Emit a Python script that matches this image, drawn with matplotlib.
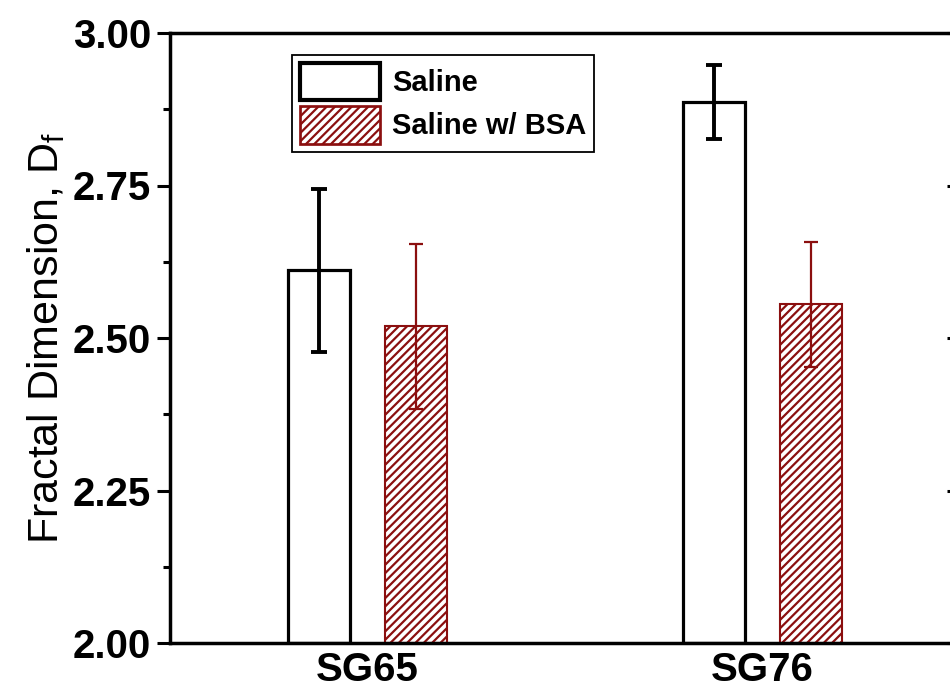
import numpy as np
import matplotlib.pyplot as plt
from matplotlib.ticker import MultipleLocator

plt.rcParams['font.family'] = ['Liberation Sans', 'DejaVu Sans']
plt.rcParams['hatch.linewidth'] = 1.6

# data
groups = ["SG65", "SG76"]
saline = [2.611, 2.887]
saline_err = [0.134, 0.061]
bsa = [2.519, 2.555]
bsa_err = [0.135, 0.102]

red = "#8b0f0f"

fig = plt.figure(figsize=(9.5, 6.92), dpi=100)
ax = fig.add_axes([170 / 950, 1 - 643 / 692, (960 - 170) / 950, (643 - 33) / 692])

x = np.arange(1, len(groups) + 1)
w = 0.155
off = 0.123

ax.bar(x - off, np.array(saline) - 2, w, bottom=2, facecolor="white",
       edgecolor="black", linewidth=2.3, label="Saline", zorder=2)
ax.errorbar(x - off, saline, yerr=saline_err, fmt="none", ecolor="black",
            elinewidth=2.8, capsize=5.5, capthick=2.8, zorder=3)

ax.bar(x + off, np.array(bsa) - 2, w, bottom=2, facecolor="white",
       edgecolor=red, linewidth=1.5, hatch="////", label="Saline w/ BSA", zorder=2)
ax.errorbar(x + off, bsa, yerr=bsa_err, fmt="none", ecolor=red,
            elinewidth=1.6, capsize=5, capthick=1.6, zorder=3)

ax.set_xlim(0.5, 2.5)
ax.set_ylim(2.0, 3.0)
ax.set_xticks(x)
ax.set_xticklabels(groups, fontsize=29, fontweight="bold")
ax.yaxis.set_major_locator(MultipleLocator(0.25))
ax.yaxis.set_minor_locator(MultipleLocator(0.125))
ax.set_yticklabels([f"{v:.2f}" for v in ax.get_yticks()], fontsize=29,
                   fontweight="bold")

ax.tick_params(axis="x", length=0, pad=6)
ax.tick_params(axis="y", which="major", direction="out", length=9.5, width=2.2, pad=4)
ax.tick_params(axis="y", which="minor", direction="out", length=5, width=2.2)
ax.tick_params(axis="y", which="both", right=True)
for t in ax.yaxis.get_major_ticks() + ax.yaxis.get_minor_ticks():
    t.tick2line.set_marker(0)  # right side ticks point inward
for sp in ax.spines.values():
    sp.set_linewidth(2.5)

ax.set_ylabel(r"Fractal Dimension, D$_\mathregular{f}$", fontsize=31, labelpad=4)

leg = fig.legend(loc="upper left", bbox_to_anchor=(292 / 950, 1 - 55 / 692),
                 prop={"size": 21, "weight": "bold"}, frameon=True, framealpha=1,
                 fancybox=False, edgecolor="black", handlelength=2.75,
                 handleheight=1.6, labelspacing=0.2, handletextpad=0.42,
                 borderpad=0.27, borderaxespad=0)
leg.get_frame().set_linewidth(1.3)
for h in leg.legend_handles:
    h.set_linewidth(h.get_linewidth() * 1.3)

fig.savefig("out.png", dpi=100)
